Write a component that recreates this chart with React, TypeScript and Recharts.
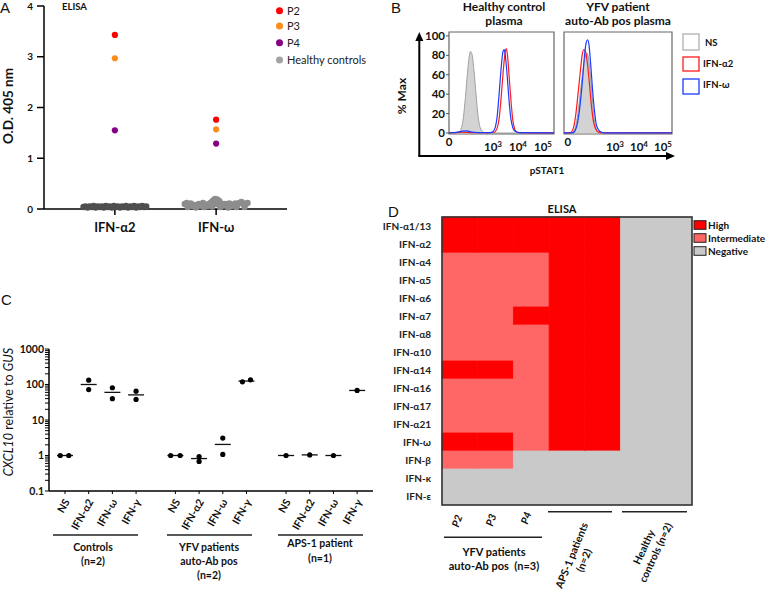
import React from "react"
import {
  ScatterChart,
  Scatter,
  XAxis,
  YAxis,
  ComposedChart,
  Area,
  Line,
  BarChart,
  Bar,
  Cell,
  ReferenceArea,
  ReferenceLine,
} from "recharts"

const FONT = "Lato, 'Open Sans', sans-serif"
const LETTER_FONT = "'Liberation Sans', Arial, sans-serif"
const INK = "#111"

// ---------- A: ELISA O.D.
const aCategories = ["IFN-α2", "IFN-ω"]
const aP2 = [3.43, 1.76]
const aP3 = [2.97, 1.57]
const aP4 = [1.55, 1.29]
const aPatients = [
  { name: "P2", color: "#ff0000", values: aP2 },
  { name: "P3", color: "#ff8c1a", values: aP3 },
  { name: "P4", color: "#850085", values: aP4 },
]
// healthy controls: [offset from category, O.D.]
const aHealthyA2 = [
  [-0.31, 0.04], [-0.29, 0.05], [-0.27, 0.03], [-0.25, 0.05], [-0.23, 0.04], [-0.21, 0.06],
  [-0.19, 0.03], [-0.17, 0.05], [-0.15, 0.04], [-0.13, 0.05], [-0.11, 0.03], [-0.09, 0.06],
  [-0.07, 0.04], [-0.05, 0.05], [-0.03, 0.03], [-0.01, 0.06], [0.01, 0.04], [0.03, 0.05],
  [0.05, 0.03], [0.07, 0.05], [0.09, 0.04], [0.11, 0.06], [0.13, 0.03], [0.15, 0.05],
  [0.17, 0.04], [0.19, 0.06], [0.21, 0.03], [0.23, 0.05], [0.25, 0.04], [0.27, 0.06],
  [0.29, 0.04], [0.31, 0.05],
]
const aHealthyW = [
  [-0.28, 0.04], [-0.2, 0.03], [-0.12, 0.04], [-0.04, 0.05], [0.04, 0.04], [0.12, 0.03],
  [0.2, 0.04], [0.28, 0.04],
  [-0.31, 0.1], [-0.29, 0.12], [-0.27, 0.09], [-0.25, 0.11], [-0.23, 0.06], [-0.21, 0.08],
  [-0.19, 0.05], [-0.17, 0.1], [-0.15, 0.07], [-0.13, 0.12], [-0.11, 0.09], [-0.09, 0.06],
  [-0.07, 0.1], [-0.05, 0.13], [-0.03, 0.17], [-0.01, 0.2], [0.01, 0.19], [0.03, 0.16],
  [0.05, 0.11], [0.07, 0.07], [0.09, 0.1], [0.11, 0.08], [0.13, 0.11], [0.15, 0.06],
  [0.17, 0.09], [0.19, 0.11], [0.21, 0.08], [0.23, 0.12], [0.25, 0.14], [0.27, 0.11],
  [0.29, 0.09], [0.31, 0.12], [0.0, 0.1], [-0.02, 0.1],
]
const aHealthyName = "Healthy controls"
const aHealthyColor = "#a3a3a3"

// ---------- B: pSTAT1 histograms, x in decades (0 label near left edge)
const bLeftZero = 1.24
const bRightZero = 1.04
const bDecadeTicks = [3, 4, 5]
const bLeftNS = [
  [1.24, 0], [1.5, 0.3], [1.64, 1], [1.72, 4], [1.8, 13], [1.88, 32], [1.96, 56],
  [2.03, 75], [2.1, 84], [2.17, 80], [2.24, 64], [2.32, 40], [2.4, 18], [2.48, 6],
  [2.58, 1.5], [2.7, 0], [5.44, 0],
]
const bLeftA2 = [
  [1.24, 0.3], [1.5, 0.5], [1.8, 0.8], [2.0, 0.6], [2.4, 0.3], [2.8, 0.3], [3.05, 0.8],
  [3.15, 4], [3.25, 16], [3.33, 38], [3.41, 64], [3.48, 82], [3.53, 87], [3.58, 80],
  [3.64, 60], [3.71, 36], [3.79, 14], [3.87, 4], [3.96, 1], [4.1, 0.3], [5.44, 0.2],
]
const bLeftW = [
  [1.24, 0.3], [1.6, 1], [1.8, 2], [1.95, 2.2], [2.1, 1.2], [2.4, 0.4], [2.8, 0.4],
  [2.98, 1], [3.08, 5], [3.17, 18], [3.25, 42], [3.33, 68], [3.4, 84], [3.45, 86],
  [3.5, 78], [3.57, 58], [3.64, 34], [3.72, 14], [3.8, 5], [3.9, 1.5], [4.05, 0.4], [5.44, 0.2],
]
const bRightNS = [
  [0.875, 0], [1.2, 0], [1.3, 3], [1.4, 12], [1.5, 30], [1.6, 52], [1.7, 70], [1.78, 80],
  [1.84, 82], [1.9, 76], [1.98, 58], [2.06, 34], [2.14, 14], [2.22, 4], [2.32, 0.5],
  [2.45, 0], [5.375, 0],
]
const bRightA2 = [
  [0.875, 0.2], [1.15, 0.5], [1.25, 4], [1.35, 16], [1.45, 38], [1.55, 62], [1.63, 80],
  [1.7, 86], [1.77, 84], [1.85, 72], [1.93, 52], [2.01, 30], [2.1, 12], [2.2, 4],
  [2.32, 1], [2.5, 0.3], [5.375, 0.2],
]
const bRightW = [
  [0.875, 0.2], [1.25, 0.5], [1.35, 3], [1.45, 12], [1.55, 30], [1.65, 56], [1.73, 80],
  [1.8, 93], [1.86, 96], [1.92, 90], [1.99, 70], [2.06, 46], [2.14, 24], [2.22, 9],
  [2.32, 3], [2.45, 0.8], [2.6, 0.2], [5.375, 0.2],
]
const bLegend = [
  { name: "NS", color: "#b0b0b0" },
  { name: "IFN-α2", color: "#ff1a1a" },
  { name: "IFN-ω", color: "#1a3cff" },
]

// ---------- C: CXCL10 relative to GUS
const cTreatments = ["NS", "IFN-α2", "IFN-ω", "IFN-γ"]
const cTickPos = [0, 1, 2, 3, 4.66, 5.66, 6.66, 7.66, 9.33, 10.33, 11.33, 12.33]
const cGroups = [
  ["Controls", "(n=2)"],
  ["YFV patients", "auto-Ab pos", "(n=2)"],
  ["APS-1 patient", "(n=1)"],
]
// [tick index, x offset, value]
const cDots = [
  [0, -0.2, 1], [0, 0.16, 1], [1, 0, 132], [1, 0, 72], [2, 0, 81], [2, 0, 40], [3, 0, 65], [3, 0, 38],
  [4, -0.2, 1], [4, 0.2, 1], [5, 0, 0.93], [5, 0, 0.68], [6, 0, 3.1], [6, 0, 1.07], [7, -0.17, 119], [7, 0.17, 135],
  [8, 0, 1], [9, 0, 1.04], [10, 0, 1.0], [11, 0, 68],
]
const cMedians = [1, 100, 60, 51, 1, 0.82, 2.05, 125, 1, 1.04, 1, 68]
const cMajorTicks = [0.1, 1, 10, 100, 1000]
const cMinorTicks = [
  0.2, 0.3, 0.4, 0.5, 0.6, 0.7, 0.8, 0.9, 2, 3, 4, 5, 6, 7, 8, 9,
  20, 30, 40, 50, 60, 70, 80, 90, 200, 300, 400, 500, 600, 700, 800, 900,
]

// ---------- D: ELISA heatmap
const dRowsNames = [
  "IFN-α1/13", "IFN-α2", "IFN-α4", "IFN-α5", "IFN-α6", "IFN-α7", "IFN-α8", "IFN-α10",
  "IFN-α14", "IFN-α16", "IFN-α17", "IFN-α21", "IFN-ω", "IFN-β", "IFN-κ", "IFN-ε",
]
const dColumns = ["P2", "P3", "P4", "APS1", "APS2", "HC1", "HC2"]
// 2 = high, 1 = intermediate, 0 = negative
const dMatrix = [
  [2, 2, 2, 2, 2, 0, 0],
  [2, 2, 2, 2, 2, 0, 0],
  [1, 1, 1, 2, 2, 0, 0],
  [1, 1, 1, 2, 2, 0, 0],
  [1, 1, 1, 2, 2, 0, 0],
  [1, 1, 2, 2, 2, 0, 0],
  [1, 1, 1, 2, 2, 0, 0],
  [1, 1, 1, 2, 2, 0, 0],
  [2, 2, 1, 2, 2, 0, 0],
  [1, 1, 1, 2, 2, 0, 0],
  [1, 1, 1, 2, 2, 0, 0],
  [1, 1, 1, 2, 2, 0, 0],
  [2, 2, 1, 2, 2, 0, 0],
  [1, 1, 0, 0, 0, 0, 0],
  [0, 0, 0, 0, 0, 0, 0],
  [0, 0, 0, 0, 0, 0, 0],
]
const dLevels = ["Negative", "Intermediate", "High"]
const dColors = ["#c9c9c9", "#ff6666", "#fe0000"]

const toXY = (pts: number[][]) => pts.map(([x, y]) => ({ x, y }))

const dot = (r: number, fill: string) => (p: any) =>
  <circle cx={p.cx} cy={p.cy} r={r} fill={fill} />

const axisStyle = { stroke: "#000", strokeWidth: 1.5 }

function PanelA() {
  return (
    <ScatterChart width={380} height={240} margin={{ top: 6, right: 93, bottom: 0, left: 0 }}>
      <XAxis
        type="number"
        dataKey="x"
        domain={[-0.7, 1.7]}
        ticks={[0, 1]}
        allowDataOverflow
        tickFormatter={(v: number) => aCategories[v]}
        height={31}
        axisLine={axisStyle}
        tickLine={axisStyle}
        tickSize={6}
        tickMargin={8}
        tick={{ fontSize: 13, fontWeight: 700, fill: INK }}
      />
      <YAxis
        type="number"
        dataKey="y"
        domain={[0, 4]}
        ticks={[0, 1, 2, 3, 4]}
        width={44}
        axisLine={axisStyle}
        tickLine={axisStyle}
        tickSize={7}
        tickMargin={4}
        tick={{ fontSize: 10, fontWeight: 700, fill: INK }}
      />
      <Scatter
        name={aHealthyName}
        data={aHealthyA2.map(([dx, y]) => ({ x: 0 + dx, y }))}
        shape={dot(3.2, "#4f4f4f")}
        isAnimationActive={false}
      />
      <Scatter
        name={aHealthyName}
        data={aHealthyW.map(([dx, y]) => ({ x: 1 + dx, y }))}
        shape={dot(3.2, "#8d8d8d")}
        isAnimationActive={false}
      />
      {aPatients.map((p) => (
        <Scatter
          key={p.name}
          name={p.name}
          data={p.values.map((y, i) => ({ x: i, y }))}
          shape={dot(3.1, p.color)}
          isAnimationActive={false}
        />
      ))}
    </ScatterChart>
  )
}

const powTick = (props: any) => (
  <text x={props.x} y={props.y + 9} textAnchor="middle" fontSize={11.5} fontWeight={700} fill={INK}>
    <tspan>10</tspan>
    <tspan dy={-4} fontSize={8}>{props.payload.value}</tspan>
  </text>
)

function Histogram({
  ns, a2, w, domain, zero, showY, width, yWidth,
}: {
  ns: number[][]; a2: number[][]; w: number[][]; domain: number[]; zero: number;
  showY: boolean; width: number; yWidth: number
}) {
  return (
    <ComposedChart width={width} height={152} margin={{ top: 32, right: 6, bottom: 2, left: 0 }}>
      <XAxis
        type="number"
        dataKey="x"
        domain={domain}
        ticks={bDecadeTicks}
        interval={0}
        allowDataOverflow
        height={16}
        axisLine={false}
        tickLine={false}
        tick={powTick}
      />
      <YAxis
        type="number"
        dataKey="y"
        domain={[-1, 104]}
        ticks={[0, 20, 40, 60, 80, 100]}
        interval={0}
        width={yWidth}
        axisLine={false}
        tickLine={showY ? { stroke: "#555" } : false}
        tickSize={3}
        tickMargin={1}
        tick={showY ? { fontSize: 11.5, fontWeight: 700, fill: INK } : false}
      />
      <Area
        data={toXY(ns)}
        dataKey="y"
        type="monotone"
        stroke="#a0a0a0"
        strokeWidth={1}
        fill="#d3d3d3"
        fillOpacity={1}
        isAnimationActive={false}
      />
      <Line data={toXY(a2)} dataKey="y" type="monotone" stroke={bLegend[1].color} strokeWidth={1.2} dot={false} isAnimationActive={false} />
      <Line data={toXY(w)} dataKey="y" type="monotone" stroke={bLegend[2].color} strokeWidth={1.2} dot={false} isAnimationActive={false} />
      <ReferenceArea
        x1={domain[0]}
        x2={domain[1]}
        y1={-1}
        y2={104}
        fill="none"
        fillOpacity={0}
        stroke="#666"
        strokeWidth={1.2}
        strokeOpacity={1}
        ifOverflow="visible"
      />
      <ReferenceLine
        x={zero}
        stroke="none"
        strokeOpacity={0}
        ifOverflow="visible"
        label={{ value: "0", position: "bottom", offset: 4, fontSize: 11.5, fontWeight: 700, fill: INK }}
      />
    </ComposedChart>
  )
}

const cTick = (props: any) => {
  const idx = cTickPos.indexOf(props.payload.value)
  return (
    <g transform={`translate(${props.x + 2},${props.y + 6}) rotate(-60)`}>
      <text textAnchor="end" dy="0.35em" fontSize={10.5} fontWeight={700} fill={INK}>
        {cTreatments[idx % 4]}
      </text>
    </g>
  )
}

const medianShape = (p: any) => (
  <line x1={p.cx - 8} x2={p.cx + 8} y1={p.cy} y2={p.cy} stroke="#111" strokeWidth={1.3} />
)

function PanelC() {
  return (
    <ScatterChart width={380} height={205} margin={{ top: 19, right: 7, bottom: 4, left: 0 }}>
      <XAxis
        type="number"
        dataKey="x"
        domain={[-0.675, 13]}
        ticks={cTickPos}
        allowDataOverflow
        height={40}
        axisLine={axisStyle}
        tickLine={{ stroke: "#000", strokeWidth: 1 }}
        tickSize={3}
        tickMargin={0}
        interval={0}
        tick={cTick}
      />
      <YAxis
        type="number"
        dataKey="y"
        scale="log"
        domain={[0.1, 1000]}
        ticks={[...cMajorTicks, ...cMinorTicks]}
        interval={0}
        allowDataOverflow
        width={49}
        axisLine={axisStyle}
        tickLine={{ stroke: "#000", strokeWidth: 1 }}
        tickSize={4}
        tickMargin={1}
        tickFormatter={(v: number) => (cMajorTicks.includes(v) ? String(v) : "")}
        tick={{ fontSize: 10.5, fontWeight: 700, fill: INK }}
      />
      <Scatter
        data={cMedians.map((y, i) => ({ x: cTickPos[i], y }))}
        shape={medianShape}
        isAnimationActive={false}
      />
      <Scatter
        data={cDots.map(([i, dx, y]) => ({ x: cTickPos[i] + dx, y }))}
        shape={dot(2.6, "#000")}
        isAnimationActive={false}
      />
    </ScatterChart>
  )
}

function PanelD() {
  const rows = dRowsNames.map((name) => {
    const r: Record<string, string | number> = { name }
    dColumns.forEach((c) => (r[c] = 1))
    return r
  })
  return (
    <BarChart
      layout="vertical"
      width={312}
      height={305}
      data={rows}
      margin={{ top: 17, right: 0, bottom: 0, left: 0 }}
      barCategoryGap={0}
      barGap={0}
    >
      <XAxis type="number" domain={[0, dColumns.length]} hide />
      <YAxis
        type="category"
        dataKey="name"
        width={62}
        interval={0}
        axisLine={false}
        tickLine={false}
        tickMargin={5}
        tick={{ fontSize: 10, fontWeight: 700, fill: "#222" }}
      />
      {dColumns.map((c, ci) => (
        <Bar key={c} dataKey={c} stackId="s" isAnimationActive={false}>
          {rows.map((_, ri) => (
            <Cell
              key={ri}
              fill={dColors[dMatrix[ri][ci]]}
              stroke={dColors[dMatrix[ri][ci]]}
              strokeWidth={0.8}
            />
          ))}
        </Bar>
      ))}
    </BarChart>
  )
}

function Overlay() {
  const bold = { fontWeight: 700, fill: INK }
  const cLineX = [[53, 138], [167, 252], [278, 363]]
  const cLabelX = [93, 209, 320]
  const cLabelY = [[551, 565], [551, 565, 579], [547, 562]]
  return (
    <svg width={766} height={592} style={{ position: "absolute", left: 0, top: 0, pointerEvents: "none" }}>
      {/* panel letters */}
      <g fontFamily={LETTER_FONT} fontSize={15} fill="#111">
        <text x={0} y={13}>A</text>
        <text x={391} y={13}>B</text>
        <text x={1} y={305}>C</text>
        <text x={388} y={217}>D</text>
      </g>

      {/* A */}
      <text x={62} y={10} fontSize={9.5} {...bold}>ELISA</text>
      <text transform="translate(13,106) rotate(-90)" textAnchor="middle" fontSize={13.5} {...bold}>O.D. 405 nm</text>
      {[...aPatients.map((p) => ({ name: p.name, color: p.color })), { name: aHealthyName, color: aHealthyColor }].map((it, i) => (
        <g key={it.name}>
          <circle cx={279.5} cy={[10.7, 26, 42.7, 60][i]} r={3.5} fill={it.color} />
          <text x={287} y={[10.7, 26, 42.7, 60][i] + 4} fontSize={11} fill="#222">{it.name}</text>
        </g>
      ))}

      {/* B */}
      <g fontSize={12} {...bold} textAnchor="middle">
        <text x={504} y={11}>Healthy control</text>
        <text x={504} y={25}>plasma</text>
        <text x={618} y={11}>YFV patient</text>
        <text x={618} y={25}>auto-Ab pos plasma</text>
      </g>
      <line x1={419.3} y1={156} x2={419.3} y2={40} stroke="#000" strokeWidth={2} />
      <polygon points="419.3,32 415.3,41 423.3,41" fill="#000" />
      <line x1={418.3} y1={156} x2={667} y2={156} stroke="#000" strokeWidth={2} />
      <polygon points="675,156 666,152 666,160" fill="#000" />
      <text transform="translate(406,96) rotate(-90)" textAnchor="middle" fontSize={12} {...bold}>% Max</text>
      <text x={547} y={174} textAnchor="middle" fontSize={10} {...bold}>pSTAT1</text>
      {bLegend.map((it, i) => (
        <g key={it.name}>
          <rect x={683} y={[34, 57, 79][i]} width={16} height={[16, 14, 15][i]} fill="#fff" stroke={it.color} strokeWidth={1.3} />
          <text x={i === 0 ? 705 : 703} y={[46, 66.5, 88][i]} fontSize={9.5} {...bold}>{it.name}</text>
        </g>
      ))}

      {/* C */}
      <text transform="translate(13,412) rotate(-90)" textAnchor="middle" fontSize={12.5} fill={INK}>
        <tspan fontStyle="italic">CXCL10</tspan> relative to <tspan fontStyle="italic">GUS</tspan>
      </text>
      {cGroups.map((lines, gi) => (
        <g key={gi}>
          <line x1={cLineX[gi][0]} x2={cLineX[gi][1]} y1={535} y2={535} stroke="#222" strokeWidth={1.5} />
          {lines.map((t, li) => (
            <text key={li} x={cLabelX[gi]} y={cLabelY[gi][li]} textAnchor="middle" fontSize={10.5} {...bold}>{t}</text>
          ))}
        </g>
      ))}

      {/* D */}
      <rect x={442} y={217} width={250} height={288} fill="none" stroke="#333" strokeWidth={1.6} />
      <text x={562} y={213} textAnchor="middle" fontSize={11} {...bold}>ELISA</text>
      {[2, 1, 0].map((lv, i) => (
        <g key={lv}>
          <rect x={694} y={[220.7, 233.7, 246.7][i]} width={12} height={8.6} fill={dColors[lv]} stroke="#222" strokeWidth={1} />
          <text x={708} y={[228.5, 241.5, 254.5][i]} fontSize={10} {...bold}>{dLevels[lv]}</text>
        </g>
      ))}
      {["P2", "P3", "P4"].map((t, i) => (
        <text key={t} transform={`translate(${[457, 491, 526][i]},${[521, 520, 518][i]}) rotate(-70)`} textAnchor="middle" dy="0.35em" fontSize={10.5} fontStyle="italic" {...bold}>{t}</text>
      ))}
      <line x1={444} x2={542} y1={537.3} y2={537.3} stroke="#222" strokeWidth={1.5} />
      <text x={494} y={556} textAnchor="middle" fontSize={11} {...bold}>YFV patients</text>
      <text x={494} y={569.5} textAnchor="middle" fontSize={11} {...bold} xmlSpace="preserve">auto-Ab pos  (n=3)</text>
      <line x1={548} x2={612} y1={511.7} y2={511.7} stroke="#222" strokeWidth={1.5} />
      <line x1={622} x2={687} y1={511.7} y2={511.7} stroke="#222" strokeWidth={1.5} />
      <g transform="translate(578,558) rotate(-68)" fontSize={10.5} {...bold} textAnchor="middle">
        <text y={-3}>APS-1 patients</text>
        <text y={10}>(n=2)</text>
      </g>
      <g transform="translate(650,550) rotate(-65)" fontSize={10.5} {...bold} textAnchor="middle">
        <text y={-3}>Healthy</text>
        <text y={10}>controls (n=2)</text>
      </g>
    </svg>
  )
}

export default function App() {
  return (
    <div style={{ position: "absolute", left: 0, top: 0, width: 766, height: 592, background: "#fff", fontFamily: FONT }}>
      <div style={{ position: "absolute", left: 400, top: 0 }}>
        <Histogram ns={bLeftNS} a2={bLeftA2} w={bLeftW} domain={[1.24, 5.44]} zero={bLeftZero} showY width={160} yWidth={49} />
      </div>
      <div style={{ position: "absolute", left: 560, top: 0 }}>
        <Histogram ns={bRightNS} a2={bRightA2} w={bRightW} domain={[0.875, 5.375]} zero={bRightZero} showY={false} width={118} yWidth={4} />
      </div>
      <div style={{ position: "absolute", left: 0, top: 0 }}>
        <PanelA />
      </div>
      <div style={{ position: "absolute", left: 0, top: 330 }}>
        <PanelC />
      </div>
      <div style={{ position: "absolute", left: 380, top: 200 }}>
        <PanelD />
      </div>
      <Overlay />
    </div>
  )
}
